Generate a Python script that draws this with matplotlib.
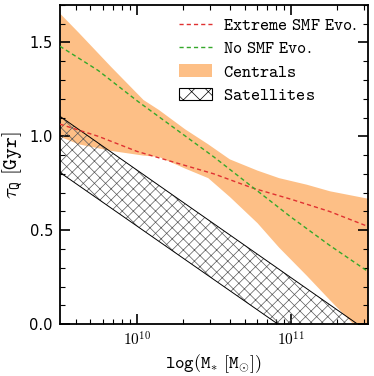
import numpy as np
import matplotlib
matplotlib.use('Agg')
import matplotlib.pyplot as plt
from matplotlib.patches import Patch
from matplotlib.lines import Line2D

plt.rcParams['mathtext.fontset'] = 'cm'
plt.rcParams['hatch.linewidth'] = 0.5

# log stellar mass grid points
logm_red = [9.50, 9.75, 10.00, 10.25, 10.50, 10.75, 11.00, 11.25, 11.50]
tau_red = [1.065, 1.00, 0.92, 0.86, 0.80, 0.725, 0.665, 0.60, 0.52]

logm_green = [9.50, 9.75, 10.00, 10.25, 10.50, 10.75, 11.00, 11.25, 11.50]
tau_green = [1.48, 1.35, 1.19, 1.04, 0.89, 0.73, 0.57, 0.42, 0.28]

# centrals band
logm_cen = [9.50, 9.62, 9.83, 10.04, 10.14, 10.31, 10.46, 10.60, 10.78,
            10.92, 11.10, 11.25, 11.50]
cen_hi = [1.655, 1.554, 1.372, 1.196, 1.143, 1.04, 0.96, 0.88, 0.82,
          0.78, 0.745, 0.71, 0.67]
cen_lo = [1.00, 0.96, 0.925, 0.90, 0.893, 0.831, 0.78, 0.68, 0.54,
          0.41, 0.26, 0.13, -0.08]

# satellites band (straight in log M)
logm_sat = [9.50, 11.50]
sat_hi = [1.107, -0.039]
sat_lo = [0.808, -0.334]

labels = ['Extreme SMF Evo.', 'No SMF Evo.', 'Centrals', 'Satellites']


def tt(s):
    return r'$\mathtt{' + s.replace(' ', r'\ ') + '}$'


fig = plt.figure(figsize=(3.74, 3.76), dpi=100)
ax = fig.add_axes([0.160, 0.138, 0.824, 0.849])

orange = '#fdbf86'
x = 10**np.array(logm_cen)
ax.fill_between(x, cen_lo, cen_hi, color=orange, lw=0, zorder=1)

xs = 10**np.array(logm_sat)
ax.fill_between(xs, sat_lo, sat_hi, facecolor='none', edgecolor='0.35',
                hatch='xxx', lw=0, zorder=2)
ax.plot(xs, sat_hi, color='k', lw=0.7, zorder=3)
ax.plot(xs, sat_lo, color='k', lw=0.7, zorder=3)

ax.plot(10**np.array(logm_red), tau_red, color='#e03131', lw=1.0,
        dashes=(3, 2.2), zorder=4)
ax.plot(10**np.array(logm_green), tau_green, color='#34a82a', lw=1.0,
        dashes=(3, 2.2), zorder=4)

ax.set_xscale('log')
ax.set_xlim(10**9.5, 10**11.5)
ax.set_ylim(0, 1.7)

ax.set_xticks([1e10, 1e11])
ax.set_xticklabels([r'$\mathtt{10^{10}}$', r'$\mathtt{10^{11}}$'], fontsize=11)
ax.xaxis.set_minor_locator(matplotlib.ticker.LogLocator(base=10, subs=np.arange(2, 10)))
ax.xaxis.set_minor_formatter(matplotlib.ticker.NullFormatter())
ax.set_yticks([0.0, 0.5, 1.0, 1.5])
ax.set_yticklabels(['0.0', '0.5', '1.0', '1.5'], fontsize=10.5)
ax.yaxis.set_minor_locator(matplotlib.ticker.MultipleLocator(0.1))

ax.tick_params(which='both', direction='in', top=True, right=True)
ax.tick_params(which='major', length=7, width=1.2, pad=5)
ax.tick_params(which='minor', length=3.5, width=0.8)
for sp in ax.spines.values():
    sp.set_linewidth(1.3)

ax.set_xlabel(r'$\mathtt{log(M_{*}\ [M_{\odot}])}$', fontsize=13, labelpad=2)
ax.set_ylabel(r'$\tau_{\mathtt{Q}}\ \mathtt{[Gyr]}$', fontsize=15, labelpad=3)

handles = [
    Line2D([], [], color='#e03131', lw=1.0, dashes=(3, 2.2)),
    Line2D([], [], color='#34a82a', lw=1.0, dashes=(3, 2.2)),
    Patch(facecolor=orange, edgecolor='none'),
    Patch(facecolor='white', edgecolor='k', hatch='xx', lw=0.8),
]
leg = ax.legend(handles, [tt(l) for l in labels], loc='upper right',
                frameon=False, fontsize=12.5, handlelength=1.9,
                handletextpad=0.6, labelspacing=0.3, borderaxespad=0.25)

fig.savefig('out.png', dpi=100)
